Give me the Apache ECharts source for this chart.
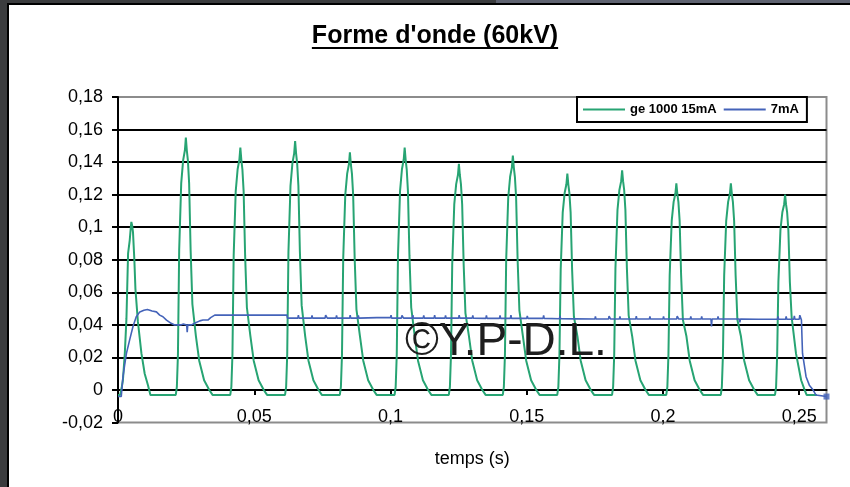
<!DOCTYPE html>
<html>
<head>
<meta charset="utf-8">
<script src="https://cdn.jsdelivr.net/npm/echarts@6/dist/echarts.min.js"></script>
<style>
html,body{margin:0;padding:0;background:#fff;}
#chart{width:850px;height:487px;}
</style>
</head>
<body>
<div id="chart"></div>
<script>
// ---- data ----
const titre = "Forme d'onde (60kV)";
const nomVert = 'ge 1000 15mA';
const nomBleu = '7mA';
const xTicks = [0, 0.05, 0.1, 0.15, 0.2, 0.25];
const yTicks = [-0.02, 0, 0.02, 0.04, 0.06, 0.08, 0.1, 0.12, 0.14, 0.16, 0.18];

const courbeVert = [
[0.0000,-0.003],[0.0008,-0.003],[0.0014,0.002],[0.0018,0.006],[0.0025,0.0225],[0.0031,0.044],[0.0037,0.084],[0.0043,0.092],[0.0047,0.100],[0.0049,0.1033],[0.0052,0.101],[0.0055,0.097],[0.0060,0.080],[0.0064,0.062],[0.0073,0.042],[0.0086,0.0225],[0.0098,0.010],[0.0110,0.003],[0.0119,-0.003],
[0.0212,-0.003],[0.0216,0.002],[0.0220,0.022],[0.02245,0.086],[0.0232,0.1271],[0.0239,0.1411],[0.02455,0.1473],[0.0249,0.155],[0.02525,0.1473],[0.02565,0.1411],[0.0261,0.1271],[0.02665,0.086],[0.0273,0.0527],[0.0286,0.033],[0.0298,0.018],[0.0316,0.006],[0.0335,0.000],[0.0347,-0.003],
[0.0412,-0.003],[0.0416,0.002],[0.0420,0.022],[0.04245,0.0827],[0.0432,0.1222],[0.0439,0.1356],[0.04455,0.1416],[0.0449,0.149],[0.04525,0.1416],[0.04565,0.1356],[0.0461,0.1222],[0.04665,0.0827],[0.0473,0.0507],[0.0486,0.033],[0.0498,0.018],[0.0516,0.006],[0.0535,0.000],[0.0547,-0.003],
[0.0613,-0.003],[0.0617,0.002],[0.0621,0.022],[0.06255,0.0849],[0.0633,0.1255],[0.0640,0.1392],[0.06465,0.1454],[0.0650,0.153],[0.06535,0.1454],[0.06575,0.1392],[0.0662,0.1255],[0.06675,0.0849],[0.0674,0.052],[0.0687,0.033],[0.0699,0.018],[0.0717,0.006],[0.0736,0.000],[0.0748,-0.003],
[0.0814,-0.003],[0.0818,0.002],[0.0822,0.022],[0.08265,0.081],[0.0834,0.1197],[0.0841,0.1329],[0.08475,0.1387],[0.0851,0.146],[0.08545,0.1387],[0.08585,0.1329],[0.0863,0.1197],[0.08685,0.081],[0.0875,0.0496],[0.0888,0.033],[0.0900,0.018],[0.0918,0.006],[0.0937,0.000],[0.0949,-0.003],
[0.1015,-0.003],[0.1019,0.002],[0.1023,0.022],[0.10275,0.0827],[0.1035,0.1222],[0.1042,0.1356],[0.10485,0.1416],[0.1052,0.149],[0.10555,0.1416],[0.10595,0.1356],[0.1064,0.1222],[0.10695,0.0827],[0.1076,0.0507],[0.1089,0.033],[0.1101,0.018],[0.1119,0.006],[0.1138,0.000],[0.1150,-0.003],
[0.1214,-0.003],[0.1218,0.002],[0.1222,0.022],[0.12265,0.0771],[0.1234,0.114],[0.1241,0.1265],[0.12475,0.1321],[0.1251,0.139],[0.12545,0.1321],[0.12585,0.1265],[0.1263,0.114],[0.12685,0.0771],[0.1275,0.0473],[0.1288,0.033],[0.1300,0.018],[0.1318,0.006],[0.1337,0.000],[0.1349,-0.003],
[0.1412,-0.003],[0.1416,0.002],[0.1420,0.022],[0.14245,0.0799],[0.1432,0.1181],[0.1439,0.131],[0.14455,0.1368],[0.1449,0.144],[0.14525,0.1368],[0.14565,0.131],[0.1461,0.1181],[0.14665,0.0799],[0.1473,0.049],[0.1486,0.033],[0.1498,0.018],[0.1516,0.006],[0.1535,0.000],[0.1547,-0.003],
[0.1612,-0.003],[0.1616,0.002],[0.1620,0.022],[0.16245,0.0738],[0.1632,0.1091],[0.1639,0.121],[0.16455,0.1264],[0.1649,0.133],[0.16525,0.1264],[0.16565,0.121],[0.1661,0.1091],[0.16665,0.0738],[0.1673,0.0452],[0.1686,0.033],[0.1698,0.018],[0.1716,0.006],[0.1735,0.000],[0.1747,-0.003],
[0.1813,-0.003],[0.1817,0.002],[0.1821,0.022],[0.18255,0.0749],[0.1833,0.1107],[0.1840,0.1229],[0.18465,0.1283],[0.1850,0.135],[0.18535,0.1283],[0.18575,0.1229],[0.1862,0.1107],[0.18675,0.0749],[0.1874,0.0459],[0.1887,0.033],[0.1899,0.018],[0.1917,0.006],[0.1936,0.000],[0.1948,-0.003],
[0.2012,-0.003],[0.2016,0.002],[0.2020,0.022],[0.20245,0.0705],[0.2032,0.1041],[0.2039,0.1156],[0.20455,0.1207],[0.2049,0.127],[0.20525,0.1207],[0.20565,0.1156],[0.2061,0.1041],[0.20665,0.0705],[0.2073,0.0432],[0.2086,0.033],[0.2098,0.018],[0.2116,0.006],[0.2135,0.000],[0.2147,-0.003],
[0.2212,-0.003],[0.2216,0.002],[0.2220,0.022],[0.22245,0.0705],[0.2232,0.1041],[0.2239,0.1156],[0.22455,0.1207],[0.2249,0.127],[0.22525,0.1207],[0.22565,0.1156],[0.2261,0.1041],[0.22665,0.0705],[0.2273,0.0432],[0.2286,0.033],[0.2298,0.018],[0.2316,0.006],[0.2335,0.000],[0.2347,-0.003],
[0.2411,-0.003],[0.2415,0.002],[0.2419,0.022],[0.24235,0.0666],[0.2431,0.0984],[0.2438,0.1092],[0.24445,0.114],[0.2448,0.120],[0.24515,0.114],[0.24555,0.1092],[0.2460,0.0984],[0.24655,0.0666],[0.2472,0.045],[0.2488,0.0225],[0.2507,0.006],[0.2520,0.000],[0.2527,-0.003],[0.2565,-0.003]
];

const courbeBleu = [
[0.0000,-0.004],[0.0012,-0.004],[0.0018,0.008],[0.0025,0.016],[0.0031,0.0225],[0.0043,0.031],[0.0055,0.039],[0.0067,0.045],[0.0080,0.048],[0.0095,0.049],[0.0108,0.0495],[0.0110,0.0505],[0.0113,0.049],[0.0125,0.0485],[0.0141,0.048],[0.0153,0.046],[0.0165,0.045],[0.0178,0.043],[0.0195,0.041],[0.0208,0.040],[0.0230,0.040],[0.0240,0.0405],[0.0252,0.040],[0.0254,0.0355],[0.0256,0.040],[0.0270,0.040],[0.0281,0.041],[0.0300,0.0425],[0.0312,0.043],[0.0330,0.043],[0.0340,0.0445],[0.0355,0.046],
[0.0430,0.046],[0.0432,0.0472],[0.0434,0.046],[0.0480,0.046],[0.0482,0.0472],[0.0484,0.046],[0.0540,0.046],[0.0542,0.0448],[0.0544,0.046],[0.0600,0.046],[0.0602,0.0472],[0.0604,0.046],[0.0620,0.046],[0.0622,0.0442],
[0.0660,0.0442],[0.0662,0.046],[0.0664,0.0442],[0.0710,0.0442],[0.0712,0.0458],[0.0714,0.0442],[0.0760,0.0442],[0.0762,0.046],[0.0766,0.046],[0.0768,0.0442],[0.0800,0.0442],[0.0802,0.0458],[0.0804,0.0442],[0.0850,0.0442],[0.0852,0.046],[0.0854,0.0442],[0.0880,0.0442],[0.0882,0.0458],[0.0884,0.0442],[0.0950,0.0445],[0.1000,0.0445],[0.1002,0.046],[0.1004,0.0442],[0.1040,0.0442],[0.1042,0.0458],[0.1046,0.0458],[0.1048,0.0442],[0.1080,0.0442],[0.1082,0.046],[0.1084,0.0442],[0.1120,0.0442],[0.1122,0.0458],[0.1124,0.0442],[0.1160,0.0442],[0.1162,0.046],[0.1164,0.0442],[0.1200,0.0442],[0.1202,0.0458],[0.1204,0.0442],[0.1250,0.0442],[0.1252,0.046],[0.1254,0.0442],[0.1300,0.0442],[0.1302,0.0458],[0.1304,0.0442],
[0.1350,0.044],[0.1352,0.0458],[0.1354,0.044],[0.1400,0.044],[0.1402,0.0458],[0.1404,0.044],[0.1440,0.044],[0.1442,0.046],[0.1444,0.044],[0.1500,0.044],[0.1502,0.0456],[0.1504,0.044],[0.1560,0.044],[0.1562,0.0458],[0.1564,0.044],[0.1620,0.0438],[0.1622,0.0456],[0.1624,0.0438],[0.1680,0.0437],[0.1750,0.0436],[0.1752,0.0452],[0.1754,0.0436],[0.1800,0.0436],[0.1802,0.0454],[0.1806,0.0454],[0.1808,0.0436],[0.1840,0.0436],[0.1842,0.0452],[0.1844,0.0436],[0.1900,0.0436],[0.1902,0.0454],[0.1904,0.0436],[0.1950,0.0436],[0.1952,0.0452],[0.1954,0.0436],[0.2000,0.0436],[0.2002,0.0452],[0.2004,0.0436],[0.2050,0.0436],[0.2052,0.0454],[0.2056,0.0454],[0.2058,0.0436],[0.2100,0.0436],[0.2102,0.0452],[0.2104,0.0436],[0.2140,0.0436],[0.2142,0.0452],[0.2144,0.0436],[0.2176,0.0436],[0.2178,0.039],[0.2180,0.0436],[0.2200,0.0436],[0.2202,0.0452],[0.2204,0.0436],[0.2280,0.0436],[0.2282,0.0415],[0.2284,0.0436],[0.2350,0.0435],[0.2420,0.0435],[0.2422,0.0452],[0.2424,0.0435],[0.2450,0.0435],[0.2452,0.0452],[0.2454,0.0435],[0.2480,0.0435],[0.2482,0.0455],[0.2484,0.0435],[0.2500,0.0435],[0.2502,0.046],[0.2505,0.045],[0.2508,0.043],[0.2512,0.0225],[0.2525,0.0082],[0.2537,0.003],[0.2551,0.000],[0.2561,-0.003],[0.2600,-0.004]
];
const finBleu = [[0.2600,-0.004]];

// ---- chart ----
const FONT = '"Liberation Sans", Arial, sans-serif';
const VERT = '#27a473';
const BLEU = '#4463b9';
const fmt = v => String(Math.round(v * 1000) / 1000).replace('.', ',');

const ctx = document.createElement('canvas').getContext('2d');
const titreFont = 'bold 25px "Liberation Sans", Arial, sans-serif';
ctx.font = titreFont;
const titreW = ctx.measureText(titre).width;
const titreX = 435, titreY = 36;

const chart = echarts.init(document.getElementById('chart'), null, {renderer: 'canvas'});
chart.setOption({
  animation: false,
  backgroundColor: '#fff',
  textStyle: {fontFamily: FONT},
  grid: {left: 118, top: 97, width: 708.5, height: 325.6, show: true,
         borderColor: '#8c8c8c', borderWidth: 2, backgroundColor: 'transparent'},
  legend: {
    left: 577, top: 97, padding: [6, 8, 6, 6],
    backgroundColor: '#fff', borderColor: '#000', borderWidth: 2,
    itemWidth: 42, itemHeight: 2, itemGap: 7, icon: 'rect',
    data: [nomVert, nomBleu],
    textStyle: {fontSize: 13, fontWeight: 'bold', color: '#000', fontFamily: FONT}
  },
  xAxis: [
    {type: 'value', min: 0, max: 0.26, interval: 0.05,
     axisLine: {show: true, onZero: true, lineStyle: {color: '#000', width: 2}},
     axisTick: {show: true, length: 5, customValues: xTicks, lineStyle: {color: '#000', width: 2}},
     axisLabel: {show: false}, splitLine: {show: false}},
    {type: 'value', min: 0, max: 0.26, interval: 0.05, position: 'bottom',
     axisLine: {show: false, onZero: false}, axisTick: {show: false},
     axisLabel: {show: true, inside: true, margin: -3, customValues: xTicks, formatter: fmt,
                 fontSize: 18, color: '#000', fontFamily: FONT},
     splitLine: {show: false},
     name: 'temps (s)', nameLocation: 'middle', nameGap: 27,
     nameTextStyle: {fontSize: 18, color: '#000', fontFamily: FONT}}
  ],
  yAxis: {
    type: 'value', min: -0.02, max: 0.18, interval: 0.02,
    axisLine: {show: true, onZero: false, lineStyle: {color: '#000', width: 2}},
    axisTick: {show: true, length: 6, customValues: yTicks, lineStyle: {color: '#000', width: 2}},
    axisLabel: {margin: 15, fontSize: 18, color: '#000', fontFamily: FONT, formatter: fmt, customValues: yTicks},
    splitLine: {show: true, showMinLine: false, showMaxLine: false, lineStyle: {color: '#000', width: 2}}
  },
  series: [
    {name: nomVert, type: 'line', data: courbeVert, xAxisIndex: 0, showSymbol: false, symbol: 'none',
     lineStyle: {color: VERT, width: 2}, itemStyle: {color: VERT}, z: 3},
    {name: nomBleu, type: 'line', data: courbeBleu, xAxisIndex: 0, showSymbol: false, symbol: 'none',
     lineStyle: {color: BLEU, width: 1.6}, itemStyle: {color: BLEU}, z: 4},
    {name: 'fin', type: 'scatter', data: finBleu, xAxisIndex: 0, symbol: 'rect', symbolSize: 6,
     itemStyle: {color: BLEU}, z: 5, silent: true}
  ],
  graphic: [
    {type: 'rect', shape: {x: 0, y: 0, width: 496, height: 3}, style: {fill: '#3b3c3e'}, silent: true},
    {type: 'rect', shape: {x: 496, y: 0, width: 354, height: 3}, style: {fill: '#5f6371'}, silent: true},
    {type: 'rect', shape: {x: 0, y: 0, width: 7, height: 487}, style: {fill: '#3b3c3e'}, silent: true},
    {type: 'rect', shape: {x: 7, y: 3, width: 843, height: 2}, style: {fill: '#000'}, silent: true},
    {type: 'rect', shape: {x: 7, y: 3, width: 2, height: 484}, style: {fill: '#000'}, silent: true},
    {type: 'text', x: titreX, y: titreY, silent: true,
     style: {text: titre, font: titreFont, fill: '#000', textAlign: 'center', textVerticalAlign: 'middle'}},
    {type: 'rect', shape: {x: titreX - titreW / 2, y: titreY + 11, width: titreW, height: 2},
     style: {fill: '#000'}, silent: true},
    {type: 'text', x: 506, y: 342, z: 100, silent: true,
     style: {text: '©Y.P-D.L.', font: '46px "Liberation Sans", Arial, sans-serif', fill: '#1e1e1e',
             textAlign: 'center', textVerticalAlign: 'middle'}}
  ]
});
</script>
</body>
</html>
